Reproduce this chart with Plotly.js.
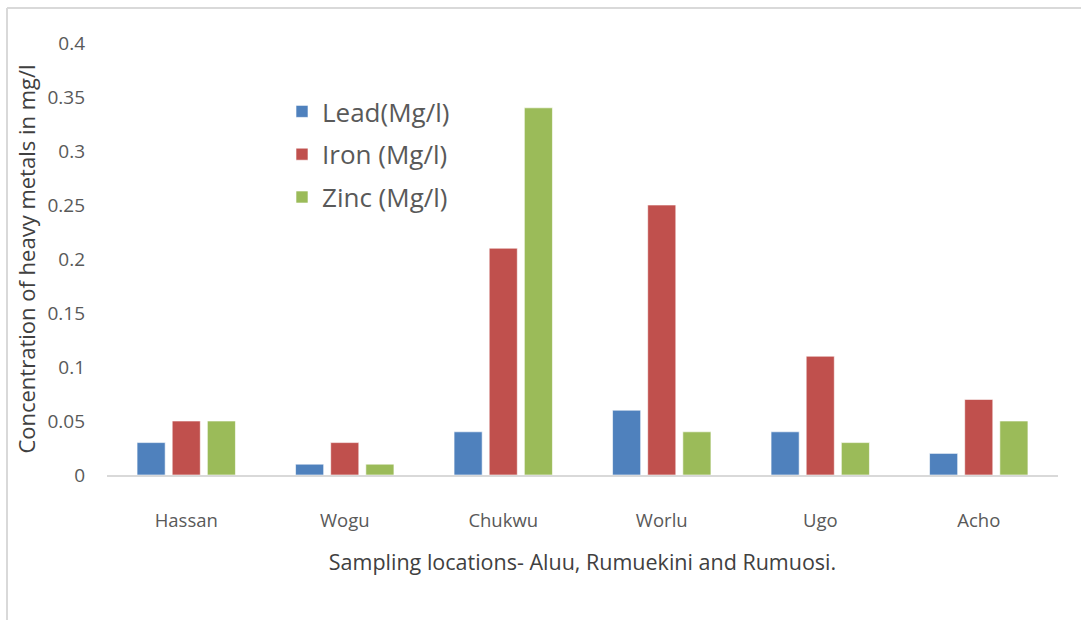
<!DOCTYPE html>
<html><head><meta charset="utf-8">
<script src="https://cdn.plot.ly/plotly-3.0.1.min.js"></script>
<style>body{margin:0;background:#fff}#chart{width:1081px;height:620px}</style>
</head><body><div id="chart"></div>
<script>
const locations = ["Hassan", "Wogu", "Chukwu", "Worlu", "Ugo", "Acho"];
const lead = [0.03, 0.01, 0.04, 0.06, 0.04, 0.02];
const iron = [0.05, 0.03, 0.21, 0.25, 0.11, 0.07];
const zinc = [0.05, 0.01, 0.34, 0.04, 0.03, 0.05];
const seriesNames = ["Lead(Mg/l)", "Iron (Mg/l)", "Zinc (Mg/l)"];
const yTicks = [0, 0.05, 0.1, 0.15, 0.2, 0.25, 0.3, 0.35, 0.4];
const yTickText = ["0", "0.05", "0.1", "0.15", "0.2", "0.25", "0.3", "0.35", "0.4"];

const colors = ["#4F81BD", "#C0504D", "#9BBB59"];
const series = [lead, iron, zinc];
const traces = series.map((vals, i) => ({
  type: "bar", x: locations, y: vals, name: seriesNames[i],
  legendgroup: "g" + i,
  marker: {color: colors[i], line: {color: "rgba(255,255,255,0.6)", width: 1}},
  hoverinfo: "x+y+name"
}));

const W = 1081, H = 620, ml = 107, mr = 23, mt = 43, mb = 145;
const pw = W - ml - mr, ph = H - mt - mb;
const px = v => (v - ml) / pw;
const py = v => (H - mb - v) / ph;
const font = "'Open Sans', 'Liberation Sans', sans-serif";

const layout = {
  width: W, height: H,
  margin: {l: ml, r: mr, t: mt, b: mb},
  paper_bgcolor: "#fff", plot_bgcolor: "#fff",
  font: {family: font, color: "#595959"},
  barmode: "group", bargap: 0.335, bargroupgap: 0.2,
  showlegend: true,
  legend: {x: px(282), y: py(88), xanchor: "left", yanchor: "top",
    font: {size: 26, color: "#595959", family: font}, tracegroupgap: 6,
    itemwidth: 30, bgcolor: "rgba(0,0,0,0)"},
  xaxis: {
    showline: true, linecolor: "#D9D9D9", linewidth: 2,
    showgrid: false, ticks: "", ticklabelstandoff: 28,
    tickfont: {size: 18.5, color: "#595959"},
    title: {text: "Sampling locations- Aluu, Rumuekini and Rumuosi.", font: {size: 21.5, color: "#404040"}, standoff: 24}
  },
  yaxis: {
    range: [0, 0.4], tickvals: yTicks, ticktext: yTickText,
    showgrid: false, zeroline: false, showline: false, ticks: "",
    ticklabelstandoff: 21,
    tickfont: {size: 19, color: "#595959"},
    title: {text: "Concentration of heavy metals in mg/l", font: {size: 22, color: "#404040"}, standoff: 5}
  },
  shapes: [
    {type: "line", xref: "paper", yref: "paper", x0: px(7), x1: px(7), y0: py(620), y1: py(8), line: {color: "#D9D9D9", width: 2}},
    {type: "line", xref: "paper", yref: "paper", x0: px(7), x1: px(1081), y0: py(8), y1: py(8), line: {color: "#D9D9D9", width: 2}}
  ]
};

Plotly.newPlot("chart", traces, layout, {displayModeBar: false, staticPlot: true});
</script></body></html>
